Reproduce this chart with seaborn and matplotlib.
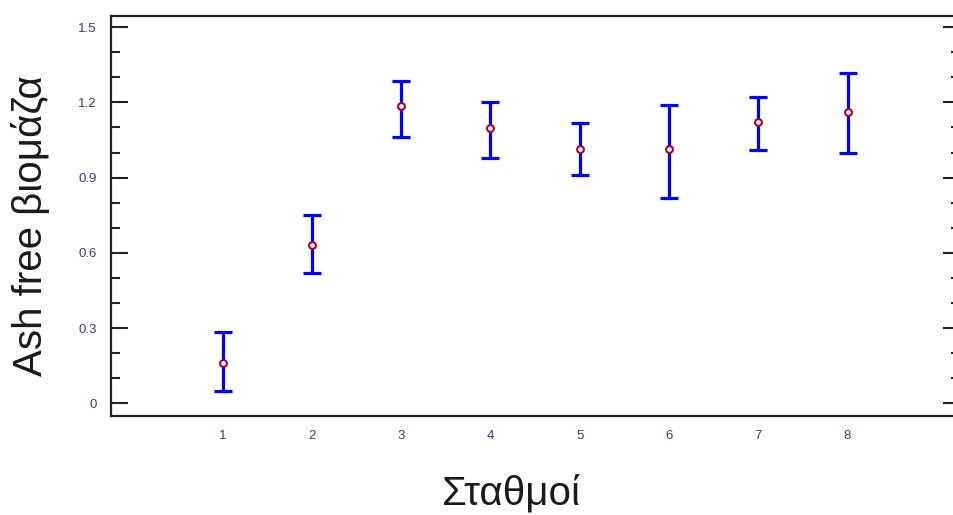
import matplotlib
matplotlib.use("Agg")
import matplotlib.pyplot as plt
from matplotlib.ticker import MultipleLocator
import numpy as np
import pandas as pd
import seaborn as sns

# Station means of ash-free biomass with lower/upper interval limits
stations = [1, 2, 3, 4, 5, 6, 7, 8]
means = [0.160, 0.630, 1.185, 1.098, 1.013, 1.013, 1.121, 1.163]
lower = [0.049, 0.518, 1.062, 0.978, 0.912, 0.817, 1.009, 0.997]
upper = [0.284, 0.752, 1.285, 1.200, 1.117, 1.190, 1.223, 1.316]
y_ticks = [0, 0.3, 0.6, 0.9, 1.2, 1.5]
y_tick_labels = ["0", "0.3", "0.6", "0.9", "1.2", "1.5"]

df = pd.DataFrame({"station": stations, "mean": means,
                   "lower": lower, "upper": upper})

sns.set_theme(style="ticks")
plt.rcParams["font.family"] = ["Liberation Sans", "DejaVu Sans"]

fig = plt.figure(figsize=(9.54, 5.15), dpi=100)
ax = fig.add_axes([0.1164, 0.1932, 0.8899, 0.7763])

yerr = np.vstack([df["mean"] - df["lower"], df["upper"] - df["mean"]])
ax.errorbar(df["station"], df["mean"], yerr=yerr, fmt="none",
            ecolor="#0000ff", elinewidth=2.3, capsize=6.7, capthick=2.3,
            zorder=2)
sns.scatterplot(data=df, x="station", y="mean", ax=ax, marker="o", s=24,
                facecolor="white", edgecolor="#a8002a", linewidth=1.5,
                zorder=3, legend=False)

ax.set_xlim(-0.25, 9.26)
ax.set_ylim(-0.049, 1.546)
ax.set_xticks(stations)
ax.set_xticklabels([str(s) for s in stations])
ax.set_yticks(y_ticks)
ax.set_yticklabels(y_tick_labels)
ax.yaxis.set_minor_locator(MultipleLocator(0.1))

ax.tick_params(axis="y", which="major", direction="in", length=12,
               width=1.5, color="#222222", left=True, right=True,
               labelsize=9.5, labelcolor="#3c3c70", pad=10.5)
ax.tick_params(axis="y", which="minor", direction="in", length=6.5,
               width=1.5, color="#222222", left=True, right=True)
ax.tick_params(axis="x", which="both", length=0, labelsize=9.5,
               labelcolor="#3c3c70", pad=10.5)

for side in ["left", "right", "top", "bottom"]:
    ax.spines[side].set_linewidth(1.6)
    ax.spines[side].set_color("#222222")

ax.set_xlabel("Σταθμοί", fontsize=29, color="#1a1a1a")
ax.xaxis.label.set_va("center")
ax.xaxis.set_label_coords(0.472, -0.194)
ax.set_ylabel("Ash free βιομάζα", fontsize=29, color="#1a1a1a")
ax.yaxis.label.set_va("center")
ax.yaxis.set_label_coords(-0.095, 0.474)

fig.savefig("out.png", dpi=100)
